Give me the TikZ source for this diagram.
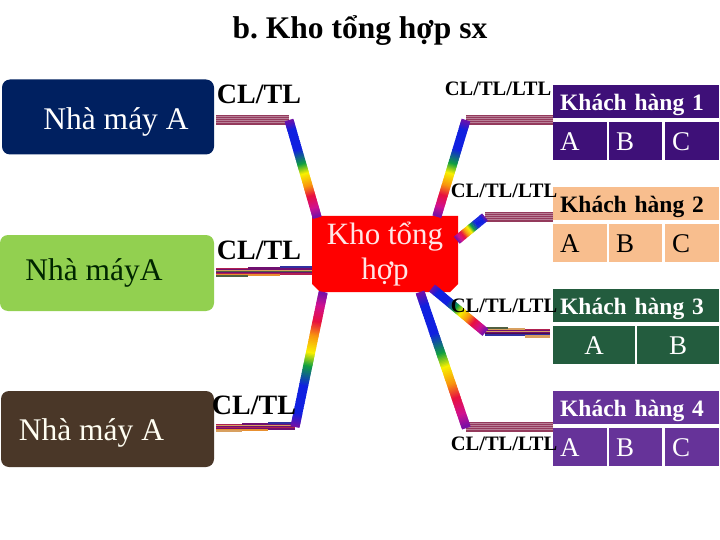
\documentclass[tikz,border=0pt]{standalone}
\usepackage{fontspec}
\setmainfont{Liberation Serif}
\usetikzlibrary{calc, shapes.misc}

\definecolor{plantblue}{HTML}{002060}
\definecolor{plantgreen}{HTML}{92D050}
\definecolor{plantbrown}{HTML}{4A3728}
\definecolor{custviolet}{HTML}{3E1078}
\definecolor{custpeach}{HTML}{F8BE8E}
\definecolor{custgreen}{HTML}{235C3E}
\definecolor{custpurple}{HTML}{663399}
\definecolor{rbV}{HTML}{7010A8}
\definecolor{rbB}{HTML}{1020E0}
\definecolor{rbG}{HTML}{10A040}
\definecolor{rbY}{HTML}{F8F000}
\definecolor{rbO}{HTML}{F89010}
\definecolor{rbR}{HTML}{E81040}
\definecolor{rbM}{HTML}{D01090}
\definecolor{stripeA}{HTML}{943A5C}
\definecolor{stripeB}{HTML}{B88098}
\definecolor{stripeC}{HTML}{B02050}
\definecolor{stripeD}{HTML}{D8A060}
\definecolor{stripeE}{HTML}{701070}
\definecolor{stripeF}{HTML}{E89030}
\definecolor{stripeG}{HTML}{506040}
\definecolor{stripeH}{HTML}{3030A0}

\tikzset{
    plantbox/.style={draw=none, rounded corners=8pt, inner sep=0pt, minimum width=212pt, minimum height=75pt, font=\fontsize{31.5}{34}\selectfont},
    headbox/.style={anchor=north west, inner xsep=7pt, inner ysep=0pt, text width=152pt, text height=18pt, text depth=0pt, minimum height=33pt, font=\fontsize{23.5}{26}\selectfont\bfseries},
    cellbox/.style={anchor=north west, inner xsep=7pt, inner ysep=0pt, text height=18pt, text depth=0pt, minimum height=38pt, font=\fontsize{27}{30}\selectfont},
    linktext/.style={inner sep=0pt, font=\fontsize{28}{30}\selectfont\bfseries},
    goodstext/.style={inner sep=0pt, font=\fontsize{20.5}{24}\selectfont\bfseries},
    rainbowseg/.style={line width=9pt},
    stripeseg/.style={line width=1.2pt}
}

% rainbow link, short pieces along the line, mixed between the stops
\newcommand{\rainbowlink}[2]{
    \foreach \sa/\sb/\ca/\cb in {0/.1/rbV/rbB, .1/.3/rbB/rbB, .3/.45/rbB/rbG, .45/.55/rbG/rbY, .55/.68/rbY/rbO, .68/.78/rbO/rbR, .78/.9/rbR/rbM, .9/1/rbM/rbV}
    {
        \foreach \p [evaluate=\p as \ta using \sa+(\sb-\sa)*\p/100, evaluate=\p as \tb using \sa+(\sb-\sa)*(\p+10)/100+.008] in {0,10,...,90}
        {
            \draw[rainbowseg, draw=\cb!\p!\ca] ($(#1)!\ta!(#2)$) -- ($(#1)!\tb!(#2)$);
        }
    }
}
% striped link, list of yshift/colour
\newcommand{\stripelink}[3]{
    \foreach \dy/\c in {#3}
    {
        \draw[stripeseg, draw=\c] ([yshift=\dy pt]#1) -- ([yshift=\dy pt]#2);
    }
}
\newcommand{\roselink}[2]{
    \stripelink{#1}{#2}{4/stripeA, 3/stripeB, 2/stripeA, 1/stripeB, 0/stripeA, -1/stripeB, -2/stripeA, -3/stripeB, -4/stripeA}
}

\begin{document}
\frenchspacing
\begin{tikzpicture}[x=1pt, y=-1pt]
    \useasboundingbox (0,0) rectangle (720,540);

    \node(title)[inner sep=0pt, font=\fontsize{31.5}{34}\selectfont\bfseries] at (360,31) {b. Kho tổng hợp sx};

    % plants
    \node(plantA)[plantbox, fill=plantblue, text=white, text height=26pt, text depth=0pt] at (108,117) {\hspace{16pt}Nhà máy A};
    \node(plantB)[plantbox, fill=plantgreen, minimum width=214pt, minimum height=76pt, text=black!85!green, text height=24pt, text depth=10pt] at (107,273) {\hspace{-26pt}Nhà máyA};
    \node(plantC)[plantbox, fill=plantbrown, minimum width=213pt, minimum height=76pt, text=white!95!yellow, text height=22pt, text depth=0pt] at (107.5,429) {\hspace{-32pt}Nhà máy A};

    % depot
    \node(depot)[chamfered rectangle, chamfered rectangle corners={south east, south west}, chamfered rectangle xsep=4pt, chamfered rectangle ysep=4pt,
        fill=red, inner sep=0pt, minimum width=146pt, minimum height=76pt, text=white!90!red, align=center, font=\fontsize{31}{35}\selectfont] at (385,254) {Kho tổng\\hợp};

    % customers
    \foreach \k/\y/\fc/\tc in {1/85/custviolet/white, 2/187/custpeach/black, 4/391/custpurple/white}
    {
        \node(head\k)[headbox, fill=\fc, text=\tc] at (553,\y) {Khách hàng \k};
        \node(cell\k A)[cellbox, fill=\fc, text=\tc, text width=40pt] at (553,\y+37) {A};
        \node(cell\k B)[cellbox, fill=\fc, text=\tc, text width=39pt] at (609,\y+37) {B};
        \node(cell\k C)[cellbox, fill=\fc, text=\tc, text width=40pt] at (665,\y+37) {C};
    }
    \node(head3)[headbox, fill=custgreen, text=white] at (553,289) {Khách hàng 3};
    \node(cell3A)[cellbox, fill=custgreen, text=white, text width=68pt, align=center] at (553,326) {A};
    \node(cell3B)[cellbox, fill=custgreen, text=white, text width=68pt, align=center] at (637,326) {B};

    % bends and ends of the links
    \coordinate(bendA) at (289,120);
    \coordinate(bendC) at (295,427);
    \coordinate(bend1) at (466,120);
    \coordinate(bend2) at (485,217);
    \coordinate(bend3) at (485,332);
    \coordinate(bend4) at (466,427);
    \coordinate(stepB1) at (248,272);
    \coordinate(stepB2) at (280,272);
    \coordinate(stepC1) at (242,427);
    \coordinate(stepC2) at (268,427);
    \coordinate(step31) at (508,332);
    \coordinate(step32) at (525,332);
    \coordinate(dockA) at (317,217);
    \coordinate(dockC) at (323,293);
    \coordinate(dock1) at (437,216);
    \coordinate(dock2) at (457,240);
    \coordinate(dock3) at (432,288);
    \coordinate(dock4) at (420,292);

    % striped links
    \roselink{$(plantA.east |- bendA)+(2,0)$}{bendA}
    \roselink{$(head1.west |- bend1)$}{bend1}
    \roselink{$(head2.west |- bend2)$}{bend2}
    \roselink{$(head4.west |- bend4)$}{bend4}

    \stripelink{$(plantB.east |- stepB1)+(2,0)$}{$(depot.west |- stepB1)$}{3/stripeC, 2/stripeE, 1/stripeD, 0/stripeG, -1/stripeE, -2/stripeC}
    \stripelink{stepB1}{$(depot.west |- stepB1)$}{4/stripeE}
    \stripelink{stepB2}{$(depot.west |- stepB1)$}{5/stripeH}
    \stripelink{$(plantB.east |- stepB1)+(2,0)$}{stepB2}{-3/stripeF}
    \stripelink{$(plantB.east |- stepB1)+(2,0)$}{stepB1}{-4/stripeG}

    \stripelink{$(plantC.east |- bendC)+(2,0)$}{bendC}{2/stripeC, 1/stripeD, 0/stripeE, -1/stripeC, -2/stripeE}
    \stripelink{stepC1}{bendC}{3/stripeE}
    \stripelink{stepC2}{bendC}{4/stripeH}
    \stripelink{$(plantC.east |- bendC)+(2,0)$}{stepC2}{-3/stripeF}
    \stripelink{$(plantC.east |- bendC)+(2,0)$}{stepC1}{-4/stripeD}

    \stripelink{$(head3.west |- bend3)+(-3,0)$}{bend3}{2/stripeC, 1/stripeE, 0/stripeD, -1/stripeE, -2/stripeE!70!black, -3/stripeH}
    \stripelink{step32}{bend3}{3/stripeD}
    \stripelink{step31}{bend3}{4/stripeG}
    \stripelink{$(head3.west |- bend3)+(-3,0)$}{step32}{-4/stripeD, -5/stripeD}

    % rainbow links
    \rainbowlink{bendA}{dockA}
    \rainbowlink{bendC}{dockC}
    \rainbowlink{bend1}{dock1}
    \rainbowlink{bend2}{dock2}
    \rainbowlink{dock3}{bend3}
    \rainbowlink{dock4}{bend4}

    % labels
    \node(linkA)[linktext] at (259,94) {CL/TL};
    \node(linkB)[linktext] at (259,250) {CL/TL};
    \node(linkC)[linktext] at (254,405) {CL/TL};
    \node(goods1)[goodstext] at (498,89) {CL/TL/LTL};
    \node(goods2)[goodstext] at (504,191) {CL/TL/LTL};
    \node(goods3)[goodstext] at (504,306) {CL/TL/LTL};
    \node(goods4)[goodstext] at (504,444) {CL/TL/LTL};
\end{tikzpicture}
\end{document}
